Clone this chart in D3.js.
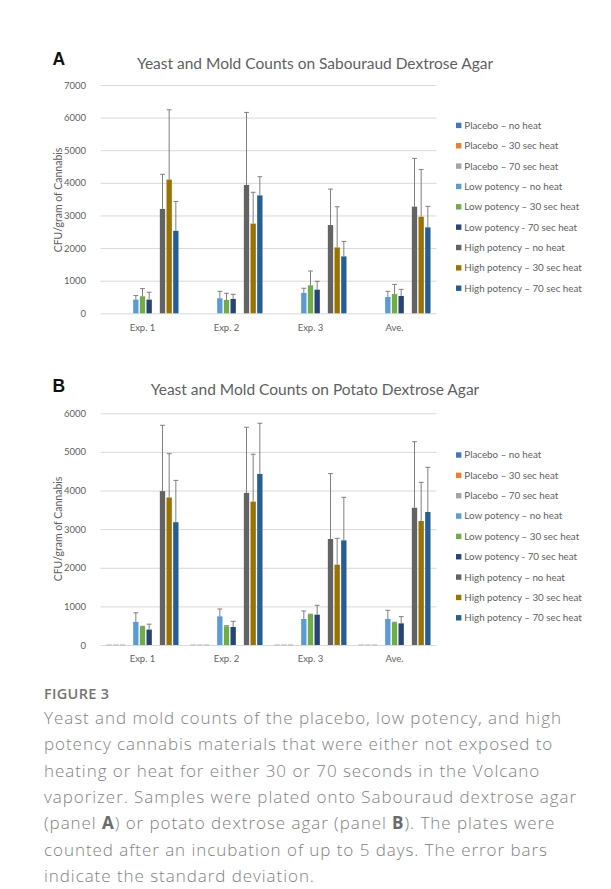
<!DOCTYPE html>
<html>
<head>
<meta charset="utf-8">
<script src="https://cdn.jsdelivr.net/npm/d3@7"></script>
<style>
  html, body { margin: 0; padding: 0; background: #ffffff; }
  svg { display: block; }
</style>
</head>
<body>
<script>
// ---- data ---------------------------------------------------------------
const categories = ["Exp. 1", "Exp. 2", "Exp. 3", "Ave."];

const seriesNames = [
  "Placebo \u2013 no heat",
  "Placebo \u2013 30 sec heat",
  "Placebo \u2013 70 sec heat",
  "Low potency \u2013 no heat",
  "Low potency \u2013 30 sec heat",
  "Low potency - 70 sec heat",
  "High potency \u2013 no heat",
  "High potency \u2013 30 sec heat",
  "High potency \u2013 70 sec heat"
];

const seriesColors = [
  "#4472C4", "#ED7D31", "#A5A5A5",
  "#5B9BD5", "#70AD47", "#264478",
  "#636363", "#997300", "#255E91"
];

// Sabouraud dextrose agar: mean CFU/g per series (rows) and experiment (columns)
const sdaMeans = [
  [0, 0, 0, 0],
  [0, 0, 0, 0],
  [0, 0, 0, 0],
  [420, 460, 625, 500],
  [522, 410, 858, 590],
  [420, 440, 725, 530],
  [3200, 3935, 2705, 3270],
  [4100, 2750, 2020, 2960],
  [2530, 3615, 1745, 2635]
];
// standard deviations (null = no error bar)
const sdaErrors = [
  [null, null, null, null],
  [null, null, null, null],
  [null, null, null, null],
  [123, 214, 143, 174],
  [236, 204, 439, 297],
  [225, 143, 256, 204],
  [1062, 2225, 1103, 1480],
  [2140, 960, 1247, 1451],
  [900, 572, 459, 644]
];
const sdaTicks = [0, 1000, 2000, 3000, 4000, 5000, 6000, 7000];

// Potato dextrose agar
const pdaMeans = [
  [0, 0, 0, 0],
  [0, 0, 0, 0],
  [0, 0, 0, 0],
  [600, 743, 674, 674],
  [470, 484, 786, 579],
  [400, 466, 786, 561],
  [3985, 3938, 2745, 3555],
  [3820, 3713, 2080, 3210],
  [3180, 4430, 2710, 3445]
];
const pdaErrors = [
  [null, null, null, null],
  [null, null, null, null],
  [null, null, null, null],
  [234, 190, 207, 224],
  [15, 15, 10, 10],
  [139, 147, 242, 173],
  [1705, 1701, 1693, 1710],
  [1134, 1227, 682, 1002],
  [1083, 1313, 1114, 1157]
];
const pdaTicks = [0, 1000, 2000, 3000, 4000, 5000, 6000];

const captionHeading = "FIGURE 3";
const captionLines = [
  ["Yeast and mold counts of the placebo, low potency, and high"],
  ["potency cannabis materials that were either not exposed to"],
  ["heating or heat for either 30 or 70 seconds in the Volcano"],
  ["vaporizer. Samples were plated onto Sabouraud dextrose agar"],
  ["(panel ", {b: "A"}, ") or potato dextrose agar (panel ", {b: "B"}, "). The plates were"],
  ["counted after an incubation of up to 5 days. The error bars"],
  ["indicate the standard deviation."]
];

// ---- drawing ------------------------------------------------------------
const W = 611, H = 889;
const chartFont = "Lato, 'Open Sans', sans-serif";
const textGray = "#5f5f5f";

const svg = d3.select("body").append("svg")
  .attr("width", W).attr("height", H)
  .attr("viewBox", `0 0 ${W} ${H}`);
svg.append("rect").attr("width", W).attr("height", H).attr("fill", "#fff");

// each series occupies a slot; an empty slot separates placebo / low / high
const seriesSlot = [0, 1, 2, 4, 5, 6, 8, 9, 10];

const plotLeft = 100.5, plotRight = 436.5;

function drawPanel(cfg) {
  const g = svg.append("g");

  const x0 = d3.scaleBand().domain(categories).range([plotLeft, plotRight]);
  const x1 = d3.scaleBand().domain(d3.range(11))
    .range([0, x0.bandwidth()]).paddingInner(0.2).paddingOuter(0.9);
  const y = d3.scaleLinear().domain([0, cfg.yMax]).range([cfg.yZero, cfg.yTop]);

  // panel letter and title
  g.append("text").attr("x", 52.5).attr("y", cfg.letterY)
    .attr("font-family", "'Liberation Sans', Arial, sans-serif")
    .attr("font-weight", 700).attr("font-size", 17.5).attr("fill", "#111")
    .text(cfg.letter);
  g.append("text").attr("x", 315).attr("y", cfg.titleY)
    .attr("text-anchor", "middle")
    .attr("font-family", chartFont).attr("font-size", 15.5).attr("fill", textGray)
    .text(cfg.title);

  // value axis with gridlines
  const yAxis = g.append("g")
    .attr("transform", `translate(${plotLeft},0)`)
    .call(d3.axisLeft(y).tickValues(cfg.ticks).tickFormat(d3.format("d"))
      .tickSize(-(plotRight - plotLeft)).tickPadding(14.5));
  yAxis.select(".domain").remove();
  yAxis.selectAll(".tick line").attr("stroke", "#d9d9d9").attr("stroke-width", 1);
  yAxis.selectAll(".tick text")
    .attr("font-family", chartFont).attr("font-size", 9.5).attr("fill", textGray);

  // category axis
  const xAxis = g.append("g")
    .attr("transform", `translate(0,${cfg.yZero})`)
    .call(d3.axisBottom(x0).tickSize(0).tickPadding(10.6));
  xAxis.select(".domain").remove();
  xAxis.selectAll(".tick text")
    .attr("font-family", chartFont).attr("font-size", 9.5).attr("fill", textGray);

  // axis title
  g.append("text")
    .attr("transform", `translate(58,${cfg.axisTitleY}) rotate(-90)`)
    .attr("text-anchor", "middle").attr("dy", "0.35em")
    .attr("font-family", chartFont).attr("font-size", 10.5).attr("fill", textGray)
    .text("CFU/gram of Cannabis");

  // bars
  const rows = [];
  cfg.means.forEach((vals, s) => vals.forEach((v, c) => {
    rows.push({s, c, v, e: cfg.errors[s][c]});
  }));
  const bx = d => x0(categories[d.c]) + x1(seriesSlot[d.s]);

  g.append("g").selectAll("rect").data(rows.filter(d => d.v > 0)).join("rect")
    .attr("x", bx).attr("width", x1.bandwidth())
    .attr("y", d => y(d.v)).attr("height", d => y(0) - y(d.v))
    .attr("fill", d => seriesColors[d.s]);

  if (cfg.zeroMarks) {
    g.append("g").selectAll("line").data(rows.filter(d => d.v === 0)).join("line")
      .attr("x1", bx).attr("x2", d => bx(d) + x1.bandwidth())
      .attr("y1", y(0)).attr("y2", y(0))
      .attr("stroke", "#bdbdbd").attr("stroke-width", 1.2);
  }

  // error bars (plus direction)
  const errs = rows.filter(d => d.e !== null);
  const cx = d => bx(d) + x1.bandwidth() / 2;
  const eg = g.append("g").attr("stroke", "#7f7f7f").attr("stroke-width", 1);
  eg.selectAll("line.stem").data(errs).join("line").attr("class", "stem")
    .attr("x1", cx).attr("x2", cx)
    .attr("y1", d => y(d.v)).attr("y2", d => y(d.v + d.e));
  eg.selectAll("line.cap").data(errs).join("line").attr("class", "cap")
    .attr("x1", d => cx(d) - 2.4).attr("x2", d => cx(d) + 2.4)
    .attr("y1", d => y(d.v + d.e)).attr("y2", d => y(d.v + d.e));

  // legend
  const leg = g.append("g").selectAll("g").data(seriesNames).join("g")
    .attr("transform", (d, i) => `translate(456,${cfg.legendY0 + i * 20.35})`);
  leg.append("rect").attr("x", 0).attr("y", -2.7).attr("width", 5.4).attr("height", 5.4)
    .attr("fill", (d, i) => seriesColors[i]);
  leg.append("text").attr("x", 8.3).attr("dy", "0.35em")
    .attr("font-family", chartFont).attr("font-size", 9.8).attr("fill", textGray)
    .text(d => d);
}

drawPanel({
  letter: "A", letterY: 65, title: "Yeast and Mold Counts on Sabouraud Dextrose Agar",
  titleY: 68.5, means: sdaMeans, errors: sdaErrors, ticks: sdaTicks,
  yMax: 7000, yZero: 313.3, yTop: 85, axisTitleY: 200, legendY0: 125.4,
  zeroMarks: false
});

drawPanel({
  letter: "B", letterY: 391.7, title: "Yeast and Mold Counts on Potato Dextrose Agar",
  titleY: 394.5, means: pdaMeans, errors: pdaErrors, ticks: pdaTicks,
  yMax: 6000, yZero: 645, yTop: 413.3, axisTitleY: 529, legendY0: 455,
  zeroMarks: true
});

// caption
const cap = svg.append("g").attr("font-family", "'Open Sans', sans-serif");
cap.append("text").attr("x", 44).attr("y", 699)
  .attr("font-size", 14.5).attr("font-weight", 600).attr("fill", "#747474")
  .attr("letter-spacing", 0.3)
  .text(captionHeading);
captionLines.forEach((parts, i) => {
  const t = cap.append("text").attr("x", 44).attr("y", 724 + i * 26.3)
    .attr("font-size", 17).attr("font-weight", 300).attr("letter-spacing", 0.95)
    .attr("fill", "#828282");
  parts.forEach(p => {
    if (typeof p === "string") t.append("tspan").text(p);
    else t.append("tspan").attr("font-weight", 700).attr("fill", "#6a6a6a").text(p.b);
  });
});
</script>
</body>
</html>
